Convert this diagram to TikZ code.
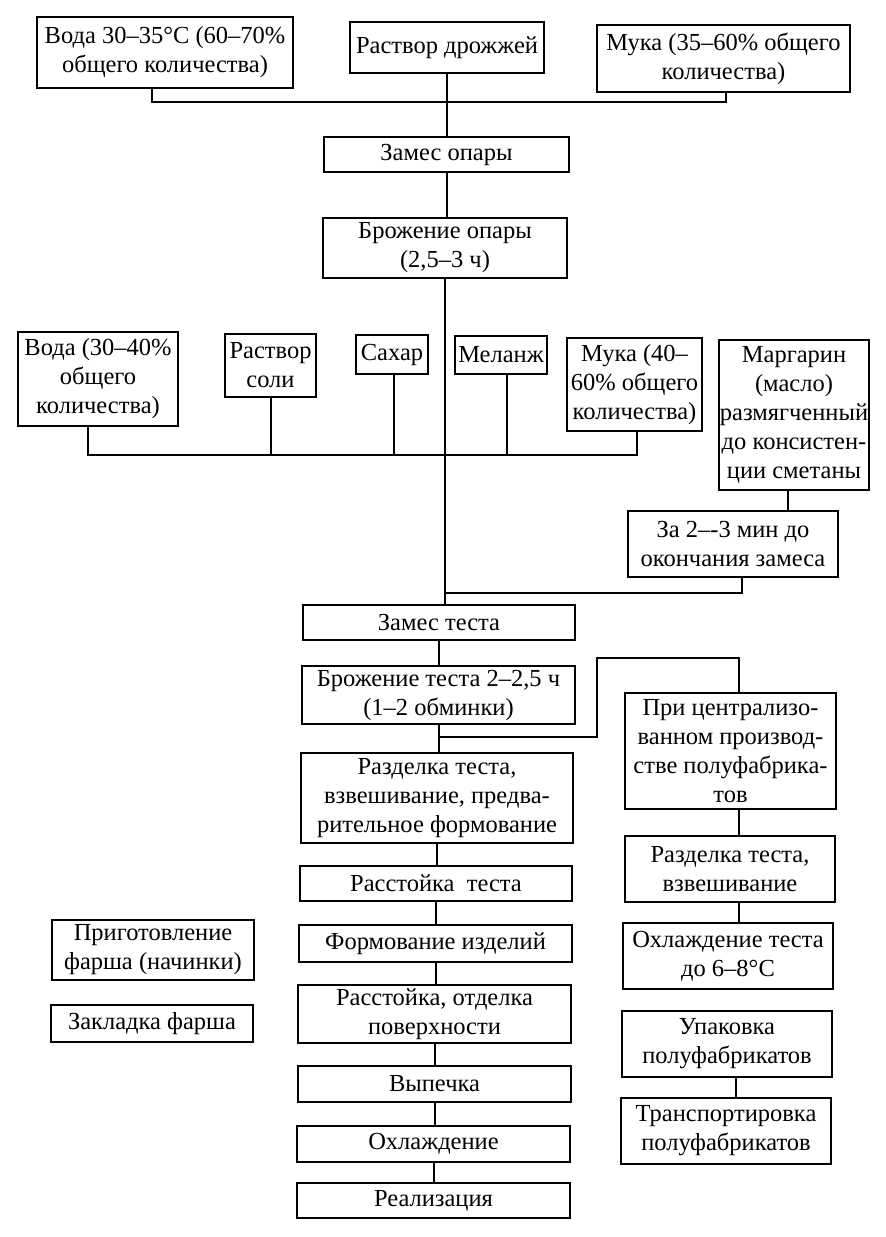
\documentclass[tikz,border=0pt]{standalone}
\usepackage{fontspec}
\setmainfont{Liberation Serif}
\begin{document}
\begin{tikzpicture}[x=1pt,y=-1pt,
  box/.style={draw, line width=2.4pt, align=center, inner sep=0pt,
    font=\fontsize{24.5}{29}\selectfont},
  conn/.style={line width=2pt}]
\fill[white] (0,0) rectangle (886,1237);
\useasboundingbox (0,0) rectangle (886,1237);
\newcommand\bx[6]{\node[box, minimum width={#4-#2}, minimum height={#5-#3}] (#1) at ({(#2+#4)/2},{(#3+#5)/2}) {#6};}
\bx{voda1}{37}{17}{293}{88}{Вода 30–35°C (60–70\%\\общего количества)}
\bx{drozh}{350}{22}{544}{73}{Раствор дрожжей}
\bx{muka1}{597}{25}{850}{92}{Мука (35–60\% общего\\количества)}
\bx{zam1}{324}{137}{569}{172}{Замес опары}
\bx{br1}{323}{218}{567}{278}{Брожение опары\\(2,5–3 ч)}
\bx{voda2}{18}{332}{178}{426}{Вода (30–40\%\\общего\\количества)}
\bx{soli}{225}{334}{316}{397}{Раствор\\соли}
\bx{sah}{356}{335}{428}{374}{Сахар}
\bx{mel}{455}{336}{547}{374}{Меланж}
\bx{muka2}{567}{338}{702}{431}{Мука (40–\\60\% общего\\количества)}
\bx{marg}{719}{340}{869}{490}{Маргарин\\(масло)\\размягченный\\до консистен-\\ции сметаны}
\bx{za}{628}{511}{838}{577}{За 2–-3 мин до\\окончания замеса}
\bx{zam2}{303}{605}{575}{640}{Замес теста}
\bx{br2}{302}{666}{575}{724}{Брожение теста 2–2,5 ч\\(1–2 обминки)}
\bx{razd1}{301}{753}{573}{843}{Разделка теста,\\взвешивание, предва-\\рительное формование}
\bx{pri}{625}{693}{836}{809}{При централизо-\\ванном производ-\\стве полуфабрика-\\тов}
\bx{rast}{300}{866}{572}{901}{Расстойка\ \ теста}
\bx{razd2}{625}{836}{835}{902}{Разделка теста,\\взвешивание}
\bx{form}{299}{925}{572}{962}{Формование изделий}
\bx{ohl2}{623}{923}{833}{989}{Охлаждение теста\\до 6–8°C}
\bx{prig}{52}{920}{254}{980}{Приготовление\\фарша (начинки)}
\bx{zakl}{51}{1005}{253}{1042}{Закладка фарша}
\bx{rast2}{298}{985}{571}{1043}{Расстойка, отделка\\поверхности}
\bx{vyp}{298}{1066}{571}{1102}{Выпечка}
\bx{ohl}{297}{1126}{570}{1162}{Охлаждение}
\bx{real}{297}{1183}{570}{1218}{Реализация}
\bx{upak}{622}{1011}{832}{1077}{Упаковка\\полуфабрикатов}
\bx{trans}{621}{1098}{831}{1164}{Транспортировка\\полуфабрикатов}
% top bus
\coordinate (b1l) at (152,102);
\coordinate (b1r) at (726,102);
\draw[conn] (voda1.south -| b1l) -- (b1l) -- (b1r) -- (muka1.south -| b1r);
\draw[conn] (drozh.south) -- (drozh.south |- zam1.north);
\draw[conn] (zam1.south) -- (zam1.south |- br1.north);
\draw[conn] (br1.south) -- (br1.south |- zam2.north);
% second bus
\coordinate (b2l) at (88,455);
\coordinate (b2r) at (637,455);
\coordinate (b2s) at (394,455);
\coordinate (b2m) at (507,455);
\draw[conn] (voda2.south -| b2l) -- (b2l) -- (b2r) -- (muka2.south -| b2r);
\draw[conn] (soli.south) -- (soli.south |- b2l);
\draw[conn] (sah.south -| b2s) -- (b2s);
\draw[conn] (mel.south -| b2m) -- (b2m);
% margarine
\coordinate (mz) at (788,500);
\draw[conn] (marg.south -| mz) -- (za.north -| mz);
\coordinate (zm) at (742,593);
\draw[conn] (za.south -| zm) -- (zm) -- (zm -| br1.south);
% dough
\draw[conn] (zam2.south) -- (zam2.south |- br2.north);
\draw[conn] (br2.south) -- (br2.south |- razd1.north);
\coordinate (j2) at (597,737);
\coordinate (j3) at (597,658);
\coordinate (j4) at (739,658);
\draw[conn] (br2.south |- j2) -- (j2) -- (j3) -- (j4) -- (j4 |- pri.north);
\draw[conn] (pri.south -| j4) -- (razd2.north -| j4);
\draw[conn] (razd2.south -| j4) -- (ohl2.north -| j4);
\coordinate (ut) at (736,1090);
\draw[conn] (upak.south -| ut) -- (trans.north -| ut);
\draw[conn] (razd1.south) -- (razd1.south |- rast.north);
\draw[conn] (rast.south) -- (rast.south |- form.north);
\draw[conn] (form.south) -- (form.south |- rast2.north);
\draw[conn] (rast2.south) -- (rast2.south |- vyp.north);
\draw[conn] (vyp.south) -- (vyp.south |- ohl.north);
\draw[conn] (ohl.south) -- (ohl.south |- real.north);
\end{tikzpicture}
\end{document}
